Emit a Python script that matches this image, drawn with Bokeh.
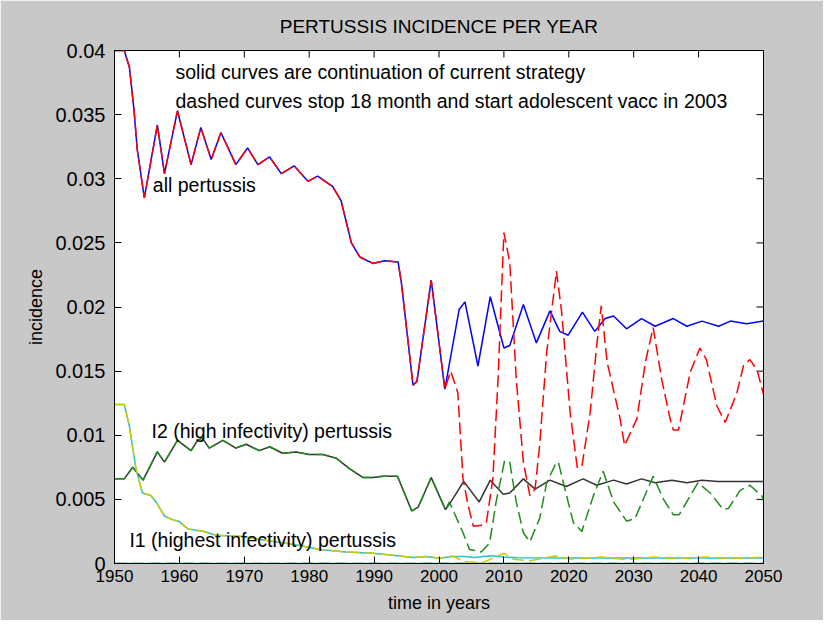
from bokeh.plotting import figure
from bokeh.models import Range1d, FixedTicker, Label
from bokeh.embed import file_html
from bokeh.resources import INLINE

# ---------------- data ----------------
x_ticks = [1950, 1960, 1970, 1980, 1990, 2000, 2010, 2020, 2030, 2040, 2050]
y_ticks = [0, 0.005, 0.01, 0.015, 0.02, 0.025, 0.03, 0.035, 0.04]
y_tick_labels = ["0", "0.005", "0.01", "0.015", "0.02", "0.025", "0.03", "0.035", "0.04"]

# all pertussis, common part (both strategies identical)
all_common_yr = [1950, 1951.5, 1952.3, 1953.0, 1953.5, 1954.6, 1956.6, 1957.7, 1959.7, 1961.8, 1963.3,
                 1964.9, 1966.4, 1968.7, 1970.5, 1972.1, 1973.9, 1975.7, 1977.7, 1979.8, 1981.3,
                 1983.6, 1984.9, 1986.5, 1987.8, 1989.8, 1991.6, 1993.7, 1994.2, 1996.0, 1996.6,
                 1998.8, 2000.9]
all_common = [0.0400, 0.0400, 0.0387, 0.0354, 0.0323, 0.0285, 0.0342, 0.0304, 0.0353, 0.0311, 0.0340,
              0.0315, 0.0336, 0.0311, 0.0324, 0.0311, 0.0317, 0.0304, 0.0310, 0.0298, 0.0302,
              0.0294, 0.0283, 0.0250, 0.0239, 0.0234, 0.0236, 0.0235, 0.0219, 0.0139, 0.0142,
              0.0221, 0.0136]
# all pertussis, continuation of current strategy
all_cur_yr = [2003.1, 2004.0, 2006.0, 2007.9, 2010.0, 2010.9, 2013.0, 2015.0, 2017.1, 2018.6, 2019.9,
              2022.1, 2024.0, 2025.6, 2026.9, 2028.9, 2031.2, 2033.3, 2036.1, 2038.2, 2040.5,
              2043.1, 2044.9, 2047.4, 2050]
all_cur = [0.0198, 0.0204, 0.0154, 0.0208, 0.0168, 0.0170, 0.0202, 0.0172, 0.0197, 0.0181, 0.0178,
           0.0196, 0.0181, 0.0191, 0.0193, 0.0183, 0.0191, 0.0185, 0.0191, 0.0185, 0.0189,
           0.0185, 0.0189, 0.0187, 0.0189]
# all pertussis, stop 18 month + adolescent vaccination from 2003
all_alt_yr = [2001.8, 2002.4, 2002.9, 2003.7, 2004.5, 2005.3, 2006.8, 2007.3, 2008.3, 2009.1, 2010.0,
              2010.9, 2011.9, 2013.0, 2014.0, 2014.8, 2015.5, 2016.6, 2018.1, 2018.9, 2020.2,
              2021.3, 2022.0, 2023.3, 2024.3, 2025.0, 2025.9, 2027.9, 2028.6, 2030.5, 2031.8,
              2033.0, 2034.3, 2035.6, 2036.1, 2036.9, 2038.7, 2040.2, 2041.2, 2042.8, 2044.1,
              2045.9, 2046.9, 2047.9, 2049.0, 2050]
all_alt = [0.0150, 0.0141, 0.0133, 0.0066, 0.0045, 0.0029, 0.0030, 0.0032, 0.0066, 0.0144, 0.0258,
           0.0235, 0.0144, 0.0079, 0.0053, 0.0058, 0.0092, 0.0165, 0.0228, 0.0196, 0.0118,
           0.0075, 0.0075, 0.0118, 0.0170, 0.0201, 0.0157, 0.0113, 0.0092, 0.0113, 0.0157,
           0.0184, 0.0144, 0.0113, 0.0104, 0.0104, 0.0149, 0.0168, 0.0159, 0.0123, 0.0110,
           0.0133, 0.0154, 0.0159, 0.0151, 0.0132]

# I2 (high infectivity)
i2_common_yr = [1950, 1951.5, 1952.8, 1954.4, 1955.9, 1956.6, 1957.7, 1959.7, 1961.8, 1962.8, 1963.5,
                1964.6, 1966.7, 1968.7, 1970.3, 1972.3, 1973.9, 1975.9, 1978.0, 1980.0, 1982.1,
                1984.2, 1986.2, 1988.3, 1989.8, 1991.4, 1993.6, 1995.8, 1996.8, 1998.8, 2001.0]
i2_common = [0.0066, 0.0066, 0.0075, 0.0065, 0.0080, 0.0087, 0.0079, 0.0096, 0.0088, 0.0096, 0.0098,
             0.0090, 0.0096, 0.0090, 0.0093, 0.0088, 0.0091, 0.0086, 0.0087, 0.0085, 0.0085,
             0.0082, 0.0074, 0.0067, 0.0067, 0.0068, 0.0068, 0.0041, 0.0044, 0.0067, 0.0042]
i2_cur_yr = [2002.2, 2003.8, 2006.2, 2007.9, 2009.9, 2010.9, 2013.0, 2014.8, 2017.1, 2019.6, 2022.2,
             2024.3, 2026.9, 2028.9, 2031.2, 2033.3, 2035.9, 2038.2, 2040.5, 2043.0, 2045.0,
             2047.5, 2050]
i2_cur = [0.0051, 0.0064, 0.0048, 0.0065, 0.0054, 0.0055, 0.0066, 0.0058, 0.0065, 0.0060, 0.0066,
          0.0061, 0.0065, 0.0062, 0.0066, 0.0063, 0.0065, 0.0063, 0.0065, 0.0064, 0.0064,
          0.0064, 0.0064]
i2_alt_yr = [2001.6, 2003.7, 2004.7, 2006.5, 2007.8, 2008.8, 2010.1, 2010.9, 2011.9, 2013.0, 2014.0,
             2015.5, 2016.6, 2018.0, 2018.4, 2019.4, 2020.7, 2022.0, 2023.8, 2025.3, 2026.9,
             2028.9, 2030.2, 2033.0, 2034.6, 2036.1, 2037.0, 2039.9, 2041.8, 2043.8, 2044.6,
             2046.4, 2047.9, 2049.7, 2050]
i2_alt = [0.0048, 0.0024, 0.0011, 0.0009, 0.0016, 0.0048, 0.0080, 0.0079, 0.0048, 0.0024, 0.0017,
          0.0035, 0.0063, 0.0078, 0.0079, 0.0058, 0.0032, 0.0025, 0.0053, 0.0072, 0.0048,
          0.0033, 0.0035, 0.0068, 0.0050, 0.0038, 0.0038, 0.0063, 0.0055, 0.0042, 0.0043,
          0.0057, 0.0061, 0.0053, 0.0050]

# I1 (highest infectivity)
i1_common_yr = [1950, 1951.5, 1952.3, 1953.3, 1954.3, 1955.6, 1956.4, 1957.7, 1959.0, 1959.9, 1961.3,
                1962.5, 1963.8, 1965.6, 1969.8, 1973.4, 1977.5, 1981.6, 1985.7, 1989.8, 1992.9,
                1996.0, 1998.0, 2000.1]
i1_common = [0.0124, 0.0124, 0.0107, 0.0074, 0.0055, 0.0053, 0.0048, 0.0037, 0.0034, 0.0033, 0.0027,
             0.0026, 0.0025, 0.0022, 0.0021, 0.0018, 0.0015, 0.0011, 0.0009, 0.0008, 0.00065,
             0.00047, 0.00055, 0.00041]
i1_cur_yr = [2002.1, 2004.0, 2005.5, 2007.8, 2010.0, 2012.0, 2020.0, 2050]
i1_cur = [0.00055, 0.00055, 0.00047, 0.0006, 0.0005, 0.00045, 0.00042, 0.00042]
i1_alt_yr = [2002.1, 2003.9, 2006.8, 2010.0, 2011.4, 2014.0, 2018.0, 2020.2, 2025.0, 2029.0, 2033.0,
             2037.0, 2041.0, 2045.0, 2050]
i1_alt = [0.0006, 0.00013, 0.00008, 0.0008, 0.00034, 0.00021, 0.0006, 0.00034, 0.0005, 0.0003, 0.0005,
          0.0004, 0.0005, 0.0004, 0.0005]

# baseline compartment (zero throughout)
zero_yr = [1950, 2050]
zero_val = [0.0, 0.0]

# ---------------- figure ----------------
GRAY = "#c8c8c8"
FONT = "Liberation Sans"
W, H = 823, 620
BL, BR, BT, BB = 114, 60, 50, 57
X0, X1, Y0, Y1 = 1950, 2050, 0.0, 0.04
TICK = 7

p = figure(width=W, height=H, x_range=Range1d(X0, X1), y_range=Range1d(Y0, Y1),
           output_backend="svg", toolbar_location=None,
           background_fill_color="white", border_fill_color=GRAY,
           min_border_left=BL, min_border_right=BR, min_border_top=BT, min_border_bottom=BB,
           outline_line_color="black", outline_line_width=1)
p.grid.visible = False

p.title.text = "PERTUSSIS INCIDENCE PER YEAR"
p.title.align = "center"
p.title.text_font = FONT
p.title.text_font_size = "19px"
p.title.text_font_style = "normal"
p.title.text_color = "black"
p.title.standoff = 27

xa = p.xaxis[0]
xa.ticker = FixedTicker(ticks=x_ticks)
xa.axis_label = "time in years"
xa.axis_label_text_font = FONT
xa.axis_label_text_font_size = "18px"
xa.axis_label_text_font_style = "normal"
xa.axis_label_standoff = 8
xa.major_label_text_font = FONT
xa.major_label_text_font_size = "17px"
xa.major_label_standoff = 6

ya = p.yaxis[0]
ya.ticker = FixedTicker(ticks=y_ticks)
ya.major_label_overrides = {t: s for t, s in zip(y_ticks, y_tick_labels)}
ya.axis_label = "incidence"
ya.axis_label_text_font = FONT
ya.axis_label_text_font_size = "18px"
ya.axis_label_text_font_style = "normal"
ya.axis_label_standoff = 6
ya.major_label_text_font = FONT
ya.major_label_text_font_size = "20px"
ya.major_label_standoff = 9

for ax in (xa, ya):
    ax.major_tick_in = TICK
    ax.major_tick_out = 0
    ax.minor_tick_in = 0
    ax.minor_tick_out = 0
    ax.axis_line_color = "black"
    ax.major_tick_line_color = "black"
    ax.major_label_text_color = "black"
    ax.axis_label_text_color = "black"

# inward ticks on the top and right edges of the box (MATLAB style)
frame_w = W - BL - BR
frame_h = H - BT - BB
dy = (Y1 - Y0) * TICK / frame_h
dx = (X1 - X0) * TICK / frame_w
p.segment(x0=x_ticks, y0=[Y1] * len(x_ticks), x1=x_ticks, y1=[Y1 - dy] * len(x_ticks),
          line_color="black", line_width=1)
p.segment(x0=[X1] * len(y_ticks), y0=y_ticks, x1=[X1 - dx] * len(y_ticks), y1=y_ticks,
          line_color="black", line_width=1)

LW = 1.5
DASH = "12 5"

# baseline compartment
p.line(zero_yr, zero_val, line_color="#22c3cf", line_width=LW)
p.line(zero_yr, zero_val, line_color="#1e8c1e", line_width=LW, line_dash=DASH)

# current strategy (solid)
p.line(all_common_yr + all_cur_yr, all_common + all_cur, line_color="#0000ff", line_width=LW)
p.line(i2_common_yr + i2_cur_yr, i2_common + i2_cur, line_color="#333333", line_width=LW)
p.line(i1_common_yr + i1_cur_yr, i1_common + i1_cur, line_color="#22c3cf", line_width=LW)

# alternative strategy (dashed)
p.line(all_common_yr + all_alt_yr, all_common + all_alt, line_color="#ff0000", line_width=LW, line_dash=DASH)
p.line(i2_common_yr + i2_alt_yr, i2_common + i2_alt, line_color="#1e8c1e", line_width=LW, line_dash=DASH)
p.line(i1_common_yr + i1_alt_yr, i1_common + i1_alt, line_color="#cccc00", line_width=LW, line_dash=DASH)

labels = [
    (1959.4, 0.0383, "solid curves are continuation of current strategy"),
    (1959.4, 0.0361, "dashed curves stop 18 month and start adolescent vacc in 2003"),
    (1955.9, 0.02955, "all pertussis"),
    (1955.7, 0.0103, "I2 (high infectivity) pertussis"),
    (1952.3, 0.0018, "I1 (highest infectivity) pertussis"),
]
for lx, ly, txt in labels:
    p.add_layout(Label(x=lx, y=ly, text=txt, text_font=FONT, text_font_size="19.5px",
                       text_baseline="middle", text_align="left", text_color="black"))

open("out.html", "w").write(file_html(p, INLINE))
